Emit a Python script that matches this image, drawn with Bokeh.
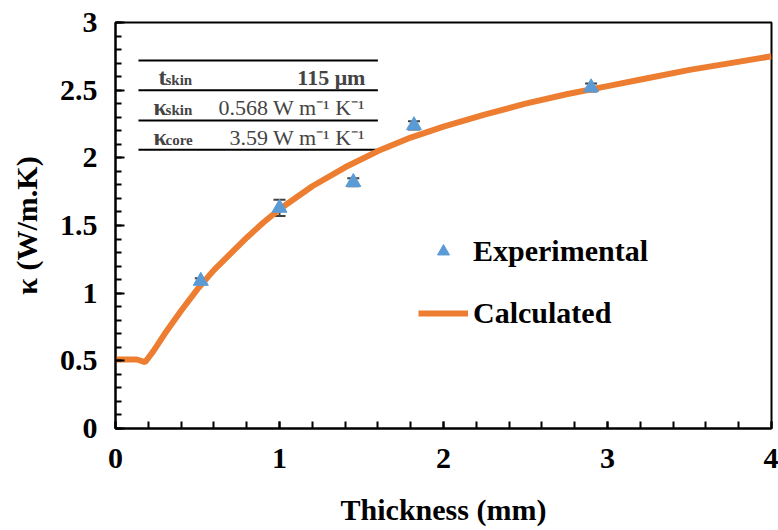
from bokeh.plotting import figure
from bokeh.models import (ColumnDataSource, Whisker, TeeHead, Legend, LegendItem,
                          Label, Range1d, SingleIntervalTicker, NumeralTickFormatter)
from bokeh.embed import file_html
from bokeh.resources import INLINE

# ---------------- data ----------------
exp_thickness = [0.52, 1.00, 1.45, 1.82, 2.90]
exp_kappa = [1.09, 1.63, 1.82, 2.24, 2.52]
exp_err = [0.02, 0.06, 0.03, 0.03, 0.03]

calc_thickness = [0.00, 0.13, 0.18, 0.23, 0.30, 0.40, 0.50, 0.60, 0.70, 0.80, 0.90, 1.00,
                  1.20, 1.40, 1.60, 1.80, 2.00, 2.25, 2.50, 2.75, 3.00, 3.25, 3.50, 3.75, 4.00]
calc_kappa = [0.51, 0.51, 0.49, 0.57, 0.70, 0.87, 1.03, 1.17, 1.29, 1.41, 1.52, 1.62,
              1.79, 1.93, 2.05, 2.15, 2.23, 2.32, 2.40, 2.47, 2.53, 2.59, 2.65, 2.70, 2.75]

x_tick_interval = 1
y_tick_interval = 0.5

table_names = ["t", "κ", "κ"]
table_subs = ["skin", "skin", "core"]
table_values = ["115 μm", "0.568 W m⁻¹ K⁻¹", "3.59 W m⁻¹ K⁻¹"]
table_value_styles = ["bold", "normal", "normal"]

series_names = ["Experimental", "Calculated"]

BLUE = "#5B9BD5"
ORANGE = "#ED7D31"
FONT = "'Liberation Serif', 'Times New Roman', serif"

p = figure(width=778, height=530, x_range=Range1d(0, 4), y_range=Range1d(0, 3),
           output_backend="svg", toolbar_location=None,
           min_border_left=115, min_border_right=7, min_border_top=22, min_border_bottom=102)
p.xgrid.visible = False
p.ygrid.visible = False
p.outline_line_color = "black"
p.outline_line_width = 2
p.background_fill_color = "white"
p.border_fill_color = "white"

for ax in (p.xaxis[0], p.yaxis[0]):
    ax.axis_line_width = 2
    ax.axis_line_color = "black"
    ax.major_tick_line_color = "black"
    ax.minor_tick_line_color = "black"
    ax.major_tick_line_width = 2
    ax.minor_tick_line_width = 2
    ax.major_tick_out = 0
    ax.minor_tick_out = 0
    ax.major_label_text_font = FONT
    ax.major_label_text_font_style = "bold"
    ax.major_label_text_font_size = "30px"
    ax.major_label_text_color = "black"
    ax.axis_label_text_font = FONT
    ax.axis_label_text_font_style = "bold"
    ax.axis_label_text_font_size = "30px"
    ax.axis_label_text_color = "black"

p.xaxis.major_label_standoff = 20
p.yaxis.major_label_standoff = 18
p.xaxis.ticker = SingleIntervalTicker(interval=x_tick_interval, num_minor_ticks=5)
p.yaxis.ticker = SingleIntervalTicker(interval=y_tick_interval, num_minor_ticks=5)
p.xaxis.formatter = NumeralTickFormatter(format="0.[0]")
p.yaxis.formatter = NumeralTickFormatter(format="0.[0]")
p.xaxis.major_tick_in = 7
p.xaxis.minor_tick_in = 7
p.yaxis.major_tick_in = 9
p.yaxis.minor_tick_in = 6
p.xaxis.axis_label = "Thickness (mm)"
p.yaxis.axis_label = "κ (W/m.K)"
p.xaxis.axis_label_standoff = 22
p.yaxis.axis_label_standoff = 14

# table
tbl_x0, tbl_x1 = 0.14, 1.60
line_ys = [2.72, 2.50, 2.276, 2.06]
for yv in line_ys:
    p.line([tbl_x0, tbl_x1], [yv, yv], line_color="black", line_width=2)
for i in range(3):
    yc = (line_ys[i] + line_ys[i + 1]) / 2
    name_x = 0.262 if table_names[i] == "t" else 0.232
    p.add_layout(Label(x=name_x, y=yc, text=table_names[i], text_font=FONT,
                       text_font_style="bold", text_font_size="24px",
                       text_baseline="middle", text_align="left", y_offset=-2))
    off = 7 if table_names[i] == "t" else 12
    p.add_layout(Label(x=name_x, y=yc, x_offset=off, y_offset=-5, text=table_subs[i],
                       text_font=FONT, text_font_style="bold", text_font_size="15px",
                       text_baseline="middle", text_align="left"))
    p.add_layout(Label(x=1.524, y=yc, text=table_values[i], text_font=FONT,
                       text_font_style=table_value_styles[i], text_font_size="22px",
                       text_baseline="middle", text_align="right", y_offset=-2))

# curve
calc_src = ColumnDataSource(dict(x=calc_thickness, y=calc_kappa))
calc_r = p.line("x", "y", source=calc_src, line_color=ORANGE, line_width=6)

# experimental
exp_src = ColumnDataSource(dict(x=exp_thickness, y=exp_kappa,
                                upper=[k + e for k, e in zip(exp_kappa, exp_err)],
                                lower=[k - e for k, e in zip(exp_kappa, exp_err)]))
w = Whisker(base="x", upper="upper", lower="lower", source=exp_src, dimension="height",
            line_color="#404040", line_width=2,
            upper_head=TeeHead(size=12, line_color="#404040", line_width=2),
            lower_head=TeeHead(size=12, line_color="#404040", line_width=2))
p.add_layout(w)
exp_r = p.scatter("x", "y", source=exp_src, marker="triangle", size=15,
                  fill_color=BLUE, line_color=BLUE)

legend = Legend(items=[LegendItem(label=series_names[0], renderers=[exp_r]),
                       LegendItem(label=series_names[1], renderers=[calc_r])],
                location=(303, 98), glyph_width=50, glyph_height=30, spacing=28,
                label_standoff=5, padding=0, margin=0,
                label_text_font=FONT, label_text_font_style="bold",
                label_text_font_size="30px", label_text_color="black",
                border_line_alpha=0, background_fill_alpha=0)
p.add_layout(legend)

open("out.html", "w").write(file_html(p, INLINE))
